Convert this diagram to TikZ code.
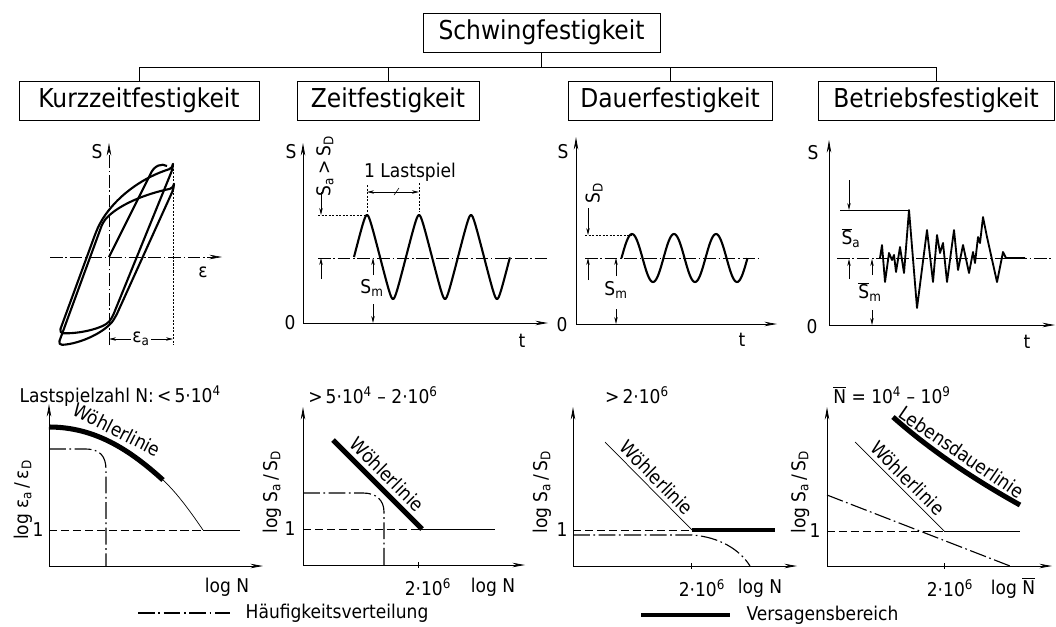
\documentclass[tikz,border=0pt]{standalone}
\usepackage{fontspec}
\setmainfont{DejaVu Sans Condensed}
\usetikzlibrary{arrows.meta, positioning, calc}
\newcommand{\ovl}[1]{$\overline{\mbox{#1}}$}
\newcommand{\sbs}[1]{\textsubscript{#1}}
\newcommand{\sps}[1]{\textsuperscript{#1}}
\tikzset{
  head/.style={draw, line width=0.6pt, minimum height=0.975cm, inner sep=2pt, font=\fontsize{18.5}{20}\selectfont},
  lbl/.style={font=\fontsize{13.5}{15}\selectfont, inner sep=1pt},
  axis/.style={line width=0.6pt, -{Stealth[length=9pt, width=3.2pt]}},
  dimarrow/.style={line width=0.4pt, -{Stealth[length=5pt, width=2.4pt]}},
  dimboth/.style={line width=0.4pt, {Stealth[length=5pt, width=2.4pt]}-{Stealth[length=5pt, width=2.4pt]}},
  centre line/.style={line width=0.4pt, dash pattern=on 9pt off 2pt on 1pt off 2pt},
  guide/.style={line width=0.4pt, dash pattern=on 1.5pt off 1pt},
  level/.style={line width=0.5pt, dash pattern=on 6pt off 2.5pt},
  freq/.style={line width=0.8pt, dash pattern=on 12pt off 2.5pt on 1.2pt off 2.5pt},
  signal/.style={line width=1.5pt, line join=round},
  heavy/.style={line width=3.6pt},
}
\begin{document}
\begin{tikzpicture}[x=0.025cm, y=-0.025cm]
\useasboundingbox (0,0) rectangle (1056,626);

% Gliederung
\node[head, minimum width=5.925cm] (root)  at (541.5,32.5) {Schwingfestigkeit};
\node[head, minimum width=6cm]     (kurz)  at (139,100.5) {Kurzzeitfestigkeit};
\node[head, minimum width=4.55cm]  (zeit)  at (388,100.5) {Zeitfestigkeit};
\node[head, minimum width=5.1cm]   (dauer) at (670,100.5) {Dauerfestigkeit};
\node[head, minimum width=5.9cm]   (betr)  at (936,100.5) {Betriebsfestigkeit};
\coordinate (bus) at (541.5,67);
\draw[line width=0.5pt] (root.south) -- (bus);
\foreach \n in {kurz,zeit,dauer,betr}
  \draw[line width=0.5pt] (\n.north) |- (bus);

% Kurzzeitfestigkeit: Hystereseschleifen
\draw[axis, centre line] (50,257) -- (222,257);
\draw[axis, centre line] (109,345) -- (109,143);
\node[lbl] at (97,152) {S};
\node[lbl] at (203,272) {ε};
\draw[guide] (173,165) -- (173,345);
\draw[signal, rounded corners=3pt] (173,168) -- (112,318) .. controls (104,328) and (80,334) .. (59,333)
  -- (96,232) .. controls (108,205) and (135,180) .. cycle;
\draw[signal, rounded corners=3pt] (174,188) -- (116,316) .. controls (106,332) and (80,344) .. (58,345)
  -- (103,222) .. controls (118,205) and (145,194) .. cycle;
\draw[signal] (109,257) -- (150,175) .. controls (154,165) and (162,163) .. (167,166);
\draw[dimboth] (109,339) -- (173,339) node[lbl, midway, fill=white] {ε\sbs{a}};

% Zeitfestigkeit
\draw[axis] (303,323) -- (303,143);
\draw[axis] (303,323) -- (548,323);
\node[lbl] at (291,152) {S};
\node[lbl] at (290,323) {0};
\node[lbl] at (522,341) {t};
\draw[centre line] (318,258) -- (547,258);
\draw[guide] (318,215) -- (367,215);
\draw[signal] plot[domain=0:3, samples=240, smooth]
  ({354+52*\x}, {257-42*asin(0.95*sin(360*\x))/asin(0.95)});
\node[lbl, rotate=90] at (325,166) {S\sbs{a}\,>\,S\sbs{D}};
\draw[dimarrow] (321,192) -- (321,215);
\draw[dimarrow] (321,279) -- (321,258);
\draw[dimarrow] (373,275) -- (373,258);
\node[lbl] at (372,288) {S\sbs{m}};
\draw[dimarrow] (373,304) -- (373,323);
\draw[guide] (367,185) -- (367,212);
\draw[guide] (419,183) -- (419,212);
\draw[dimboth] (367,192) -- (419,192);
\draw[line width=0.4pt] (394,195) -- (399,188);
\node[lbl] at (410,172) {1 Lastspiel};

% Dauerfestigkeit
\draw[axis] (576,324) -- (576,137);
\draw[axis] (576,324) -- (777,324);
\node[lbl] at (563,152) {S};
\node[lbl] at (562,325) {0};
\node[lbl] at (742,340) {t};
\draw[centre line] (585,258) -- (762,258);
\draw[guide] (585,235) -- (632,235);
\draw[signal] plot[domain=0:3, samples=150, smooth] ({621.5+42*\x}, {258-24*sin(360*\x)});
\node[lbl, rotate=90] at (594,193) {S\sbs{D}};
\draw[dimarrow] (588,208) -- (588,235);
\draw[dimarrow] (588,280) -- (588,258);
\draw[dimarrow] (616,276) -- (616,258);
\node[lbl] at (616,290) {S\sbs{m}};
\draw[dimarrow] (616,309) -- (616,324);

% Betriebsfestigkeit
\draw[axis] (829,325) -- (829,140);
\draw[axis] (829,325) -- (1055,325);
\node[lbl] at (813,153) {S};
\node[lbl] at (812,327) {0};
\node[lbl] at (1027,342) {t};
\draw[centre line] (837,258) -- (1053,258);
\draw[line width=0.5pt] (840,210) -- (909,210);
\draw[signal, line width=1.3pt] (880,258) -- (882,245) -- (885,282) -- (889,253) -- (892,260) -- (894,255)
  -- (896,272) -- (900,247) -- (904,273) -- (909,210) -- (917,308) -- (927,230) -- (933,282)
  -- (937,235) -- (940,253) -- (943,243) -- (947,282) -- (954,230) -- (958,270) -- (963,245)
  -- (969,273) -- (973,252) -- (975,263) -- (978,237) -- (980,243) -- (983,217) -- (987,237)
  -- (997,282) -- (1003,252) -- (1006,258) -- (1025,258);
\draw[dimarrow] (849,180) -- (849,210);
\node[lbl] at (851,238) {\ovl{S}\sbs{a}};
\draw[dimarrow] (849,279) -- (849,259);
\draw[dimarrow] (872,275) -- (872,259);
\node[lbl] at (870,292) {\ovl{S}\sbs{m}};
\draw[dimarrow] (872,310) -- (872,325);

% Woehlerdiagramme
\node[lbl, anchor=west] at (18,396) {Lastspielzahl N:\,<\,5·10\sps{4}};
\draw[axis] (49,566) -- (49,404);
\draw[axis] (49,566) -- (263,566);
\node[lbl] at (38,530) {1};
\draw[level] (49,530) -- (203,530);
\draw[line width=0.5pt] (203,530) -- (240,530);
\draw[heavy] (49,427) .. controls (95,427) and (130,450) .. (163,480)
  node[lbl, pos=0.5, sloped, above, inner sep=3pt] {Wöhlerlinie};
\draw[line width=0.5pt] (163,480) .. controls (177,493) and (190,511) .. (203,530);
\draw[freq] (49,449) -- (85,449) .. controls (100,449) and (106,456) .. (106,470) -- (106,566);
\node[lbl, rotate=90] at (23,500) {log ε\sbs{a}\,/\,ε\sbs{D}};
\node[lbl] at (227,587) {log N};

\node[lbl] at (373,395) {>\,5·10\sps{4} – 2·10\sps{6}};
\draw[axis] (303,565) -- (303,407);
\draw[axis] (303,565) -- (525,565);
\node[lbl] at (290,529) {1};
\draw[level] (303,529) -- (420,529);
\draw[line width=0.5pt] (420,529) -- (495,529);
\draw[heavy] (333,440) -- (422,529) node[lbl, midway, sloped, above, inner sep=3pt] {Wöhlerlinie};
\draw[freq] (303,493) -- (363,493) .. controls (376,493) and (384,500) .. (384,512) -- (384,565);
\draw[line width=0.5pt] (418,562) -- (418,568);
\node[lbl] at (428,587) {2·10\sps{6}};
\node[lbl] at (493,587) {log N};
\node[lbl, rotate=90] at (272,492) {log S\sbs{a}\,/\,S\sbs{D}};

\node[lbl] at (637,395) {>\,2·10\sps{6}};
\draw[axis] (573,566) -- (573,407);
\draw[axis] (573,566) -- (797,566);
\node[lbl] at (562,530) {1};
\draw[level] (573,530) -- (692,530);
\draw[line width=3pt] (692,530) -- (775,530);
\draw[line width=0.5pt] (605,442) -- (692,530) node[lbl, midway, sloped, above, inner sep=3pt] {Wöhlerlinie};
\draw[freq] (573,535) -- (692,535) .. controls (720,537) and (740,550) .. (750,566);
\draw[line width=0.5pt] (691,563) -- (691,569);
\node[lbl] at (702,588) {2·10\sps{6}};
\node[lbl] at (760,588) {log N};
\node[lbl, rotate=90] at (542,492) {log S\sbs{a}\,/\,S\sbs{D}};

\node[lbl] at (892,395) {\ovl{N} = 10\sps{4} – 10\sps{9}};
\draw[axis] (827,566) -- (827,407);
\draw[axis] (827,566) -- (1052,566);
\node[lbl] at (815,531) {1};
\draw[level] (827,531) -- (944,531);
\draw[line width=0.5pt] (944,531) -- (1020,531);
\draw[line width=0.5pt] (855,442) -- (944,531) node[lbl, midway, sloped, above, inner sep=3pt] {Wöhlerlinie};
\draw[heavy] (893,417) .. controls (930,450) and (975,480) .. (1020,505)
  node[lbl, pos=0.5, sloped, above, inner sep=3pt] {Lebensdauerlinie};
\draw[freq] (827,495) -- (1010,566);
\draw[line width=0.5pt] (944,563) -- (944,569);
\node[lbl] at (950,588) {2·10\sps{6}};
\node[lbl] at (1013,588) {log \ovl{N}};
\node[lbl, rotate=90] at (800,492) {log S\sbs{a}\,/\,S\sbs{D}};

% Legende
\node[lbl, anchor=west] (hv) at (244,613) {Häufigkeitsverteilung};
\draw[freq] (138,613) -- (230,613);
\node[lbl, anchor=west] (vb) at (745,615) {Versagensbereich};
\draw[line width=3.2pt] (641,615) -- (730,615);
\end{tikzpicture}
\end{document}
